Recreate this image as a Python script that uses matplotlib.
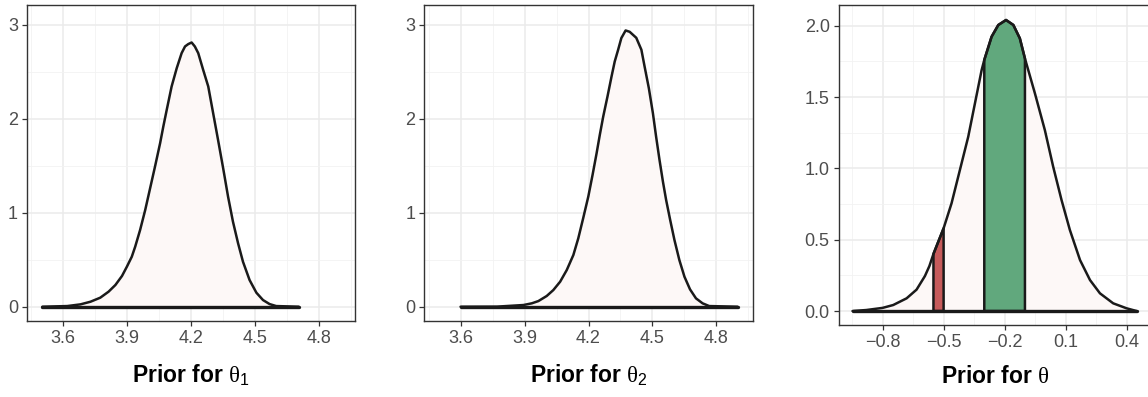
import numpy as np
import matplotlib.pyplot as plt
from matplotlib.ticker import MultipleLocator

plt.rcParams['font.family'] = ['Liberation Sans', 'DejaVu Sans']
plt.rcParams['mathtext.fontset'] = 'custom'
plt.rcParams['mathtext.rm'] = 'Liberation Sans'
plt.rcParams['mathtext.it'] = 'Liberation Serif'

# prior density for theta_1
theta1_x = [3.502, 3.619, 3.681, 3.728, 3.774, 3.813, 3.845, 3.876, 3.899, 3.922,
            3.938, 3.961, 3.985, 4.008, 4.031, 4.055, 4.070, 4.086, 4.109, 4.133,
            4.156, 4.172, 4.187, 4.203, 4.218, 4.234, 4.257, 4.281, 4.304, 4.327,
            4.351, 4.374, 4.397, 4.421, 4.444, 4.475, 4.507, 4.538, 4.569, 4.600,
            4.706]
theta1_y = [0.0, 0.007, 0.025, 0.053, 0.096, 0.160, 0.231, 0.327, 0.426, 0.532,
            0.639, 0.816, 1.029, 1.260, 1.491, 1.740, 1.917, 2.094, 2.343, 2.538,
            2.698, 2.769, 2.794, 2.811, 2.769, 2.698, 2.521, 2.343, 2.059, 1.775,
            1.473, 1.171, 0.905, 0.675, 0.479, 0.284, 0.149, 0.071, 0.028, 0.007,
            0.0]

# prior density for theta_2
theta2_x = [3.600, 3.771, 3.895, 3.934, 3.965, 4.004, 4.035, 4.067, 4.098, 4.129,
            4.152, 4.175, 4.199, 4.219, 4.238, 4.253, 4.269, 4.289, 4.308, 4.323,
            4.339, 4.354, 4.374, 4.393, 4.424, 4.448, 4.463, 4.483, 4.502, 4.517,
            4.533, 4.549, 4.564, 4.583, 4.603, 4.626, 4.650, 4.676, 4.704, 4.735,
            4.766, 4.899]
theta2_y = [0.0, 0.001, 0.018, 0.036, 0.060, 0.114, 0.177, 0.266, 0.390, 0.550,
            0.727, 0.941, 1.171, 1.402, 1.633, 1.828, 2.023, 2.236, 2.449, 2.609,
            2.734, 2.858, 2.939, 2.925, 2.861, 2.734, 2.556, 2.325, 2.059, 1.810,
            1.562, 1.331, 1.136, 0.923, 0.710, 0.497, 0.319, 0.185, 0.089, 0.036,
            0.007, 0.0]

# prior density for theta
theta_x = [-0.948, -0.88, -0.80, -0.748, -0.682, -0.633, -0.592, -0.57, -0.55, -0.50,
           -0.461, -0.42, -0.379, -0.346, -0.313, -0.30, -0.264, -0.231, -0.193, -0.157,
           -0.125, -0.10, -0.051, -0.002, 0.039, 0.080, 0.121, 0.171, 0.220, 0.269,
           0.334, 0.40, 0.449]
theta_y = [0.0, 0.007, 0.022, 0.042, 0.089, 0.150, 0.245, 0.315, 0.40, 0.58,
           0.755, 0.988, 1.221, 1.455, 1.689, 1.76, 1.923, 2.005, 2.04, 2.005,
           1.911, 1.77, 1.526, 1.268, 1.011, 0.778, 0.568, 0.357, 0.217, 0.124,
           0.054, 0.019, 0.0]

red_bounds = [-0.55, -0.50]
green_bounds = [-0.30, -0.10]

theta12_ticks = [3.6, 3.9, 4.2, 4.5, 4.8]
theta_ticks = [-0.8, -0.5, -0.2, 0.1, 0.4]
labels = [r'Prior for $\theta_1$', r'Prior for $\theta_2$', r'Prior for $\theta$']

FILL = '#FDF8F7'
RED = '#C65B5B'
GREEN = '#61A87D'
LINE = '#1A1A1A'
W, H = 1148, 397


def style_axes(ax, xticks, ymaj, ymin):
    ax.set_facecolor('white')
    ax.set_xticks(xticks)
    step = xticks[1] - xticks[0]
    ax.set_xticks([t - step / 2 for t in xticks] + [xticks[-1] + step / 2], minor=True)
    ax.yaxis.set_major_locator(MultipleLocator(ymaj))
    ax.yaxis.set_minor_locator(MultipleLocator(ymin))
    ax.grid(which='major', color='#EBEBEB', lw=1.1)
    ax.grid(which='minor', color='#F2F2F2', lw=0.6)
    ax.set_axisbelow(True)
    for s in ax.spines.values():
        s.set_color('#333333')
        s.set_linewidth(1.0)
    ax.tick_params(which='major', length=3.5, width=0.9, color='#333333',
                   labelcolor='#4D4D4D', labelsize=13, pad=3)
    ax.tick_params(which='minor', length=0)


def draw_density(ax, x, y):
    x = np.asarray(x)
    y = np.asarray(y)
    ax.fill_between(x, 0, y, color=FILL, lw=0, zorder=2)
    ax.plot(x, y, color=LINE, lw=1.8, zorder=4, solid_capstyle='round',
            solid_joinstyle='round')
    ax.plot([x[0], x[-1]], [0, 0], color=LINE, lw=2.4, zorder=4, solid_capstyle='round')


def draw_region(ax, x, y, bounds, color):
    x = np.asarray(x)
    y = np.asarray(y)
    m = (x >= bounds[0] - 1e-9) & (x <= bounds[1] + 1e-9)
    xs, ys = x[m], y[m]
    ax.fill(np.r_[xs[0], xs, xs[-1]], np.r_[0, ys, 0], facecolor=color,
            edgecolor=LINE, lw=1.8, zorder=3, joinstyle='round')


fig = plt.figure(figsize=(W / 100, H / 100), dpi=100)

ax1 = fig.add_axes([27 / W, 1 - 321 / H, 328 / W, 316 / H])
ax2 = fig.add_axes([424.3 / W, 1 - 321 / H, 328.4 / W, 316 / H])
ax3 = fig.add_axes([838.7 / W, 1 - 325 / H, 312.3 / W, 319.7 / H])

for ax in (ax1, ax2):
    style_axes(ax, theta12_ticks, 1, 0.5)
    ax.set_xlim(3.43, 4.97)
    ax.set_ylim(-0.152, 3.21)

style_axes(ax3, theta_ticks, 0.5, 0.25)
ax3.set_xlim(-1.016, 0.52)
ax3.set_ylim(-0.098, 2.143)
ax3.xaxis.set_major_formatter(plt.FuncFormatter(lambda v, p: f'{v:.1f}'.replace('-', '\u2212')))
ax3.yaxis.set_major_formatter(plt.FuncFormatter(lambda v, p: f'{v:.1f}'))

draw_density(ax1, theta1_x, theta1_y)
draw_density(ax2, theta2_x, theta2_y)
draw_density(ax3, theta_x, theta_y)
draw_region(ax3, theta_x, theta_y, red_bounds, RED)
draw_region(ax3, theta_x, theta_y, green_bounds, GREEN)

for ax, lab in zip((ax1, ax2, ax3), labels):
    pos = ax.get_position()
    cx = (pos.x0 + pos.x1) / 2
    fig.text(cx, (H - 383) / H, lab, ha='center', va='baseline',
             fontsize=16.5, fontweight='bold', color='black')

fig.savefig('out.png', dpi=100)
